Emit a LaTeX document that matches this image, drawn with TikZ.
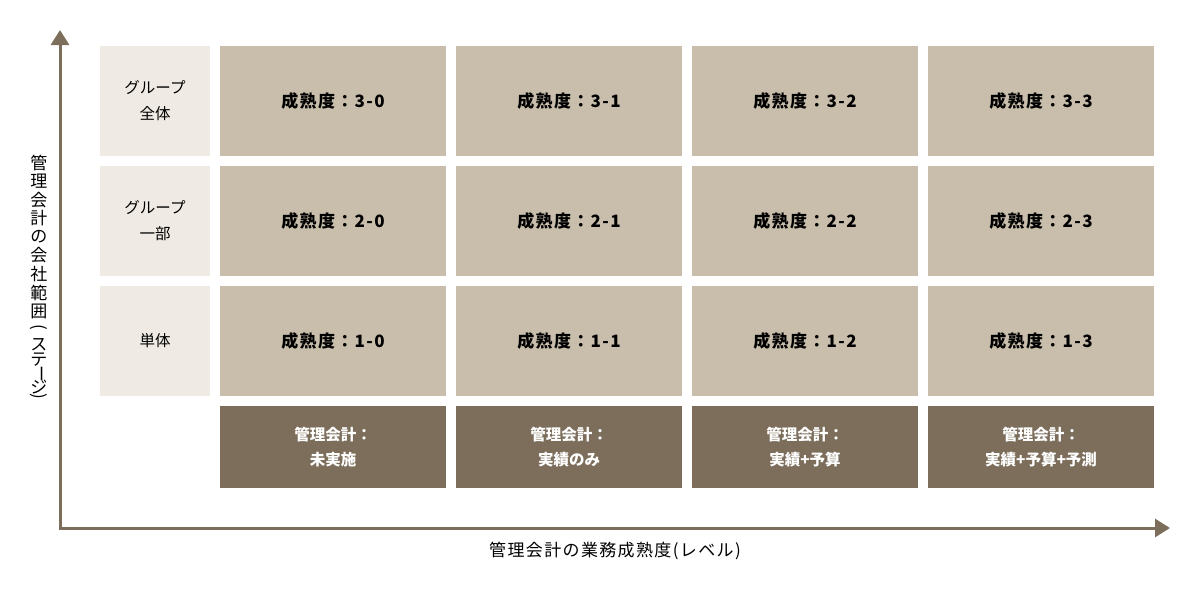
\documentclass[tikz,border=0pt]{standalone}
\usepackage{fontspec}
\setmainfont{Noto Sans CJK JP}
\newfontfamily\trackFont[LetterSpace=8]{Noto Sans CJK JP}
\usetikzlibrary{positioning,arrows.meta}
\tikzstyle{canvas} = [x = 1pt, y = -1pt]
\definecolor{stageColor}{RGB}{239,235,228}
\definecolor{cellColor}{RGB}{200,190,171}
\definecolor{axisColor}{RGB}{125,110,92}
\tikzstyle{stageBox} = [fill=stageColor, minimum width=110pt, minimum height=110pt, inner sep=0pt, align=center, font=\fontsize{15.5}{26}\selectfont]
\tikzstyle{cellBox} = [fill=cellColor, minimum width=226pt, minimum height=110pt, inner sep=0pt, font=\trackFont\fontsize{17}{20}\selectfont\bfseries]
\tikzstyle{levelBox} = [fill=axisColor, text=white, minimum width=226pt, minimum height=82pt, inner sep=0pt, align=center, font=\fontsize{15.5}{25}\selectfont\bfseries]
\tikzstyle{axisLine} = [draw=axisColor, line width=3pt, {Triangle[length=15pt, width=18pt]}-{Triangle[length=15pt, width=18pt]}]
\tikzstyle{axisText} = [font=\trackFont\fontsize{17}{18}\selectfont]
\tikzstyle{stackText} = [font=\fontsize{17}{18}\selectfont, inner sep=0pt]
\newcommand{\stage}[2]{\node [stageBox] (stage-#1) at (155, 461 - 120 * #1) {#2};}
\newcommand{\cell}[2]{\node [cellBox] (cell-#1-#2) at (333 + 236 * #2, 461 - 120 * #1) {成熟度：#1-#2};}
\newcommand{\level}[2]{\node [levelBox] (level-#1) at (333 + 236 * #1, 447) {管理会計：\\#2};}
\newcommand{\upright}[1]{\rotatebox[origin=c]{-90}{#1}}

\begin{document}
\begin{tikzpicture}[canvas]
  \useasboundingbox (0,0) rectangle (1200,590);

  \stage{3}{グループ\\全体}\stage{2}{グループ\\一部}\stage{1}{単体}
  \foreach \row in {1,2,3} {
    \foreach \column in {0,...,3} {
      \cell{\row}{\column}
    }
  }
  \level{0}{未実施}\level{1}{実績のみ}\level{2}{実績+予算}\level{3}{実績+予算+予測}

  \coordinate (origin) at (60, 528);
  \coordinate (yEnd) at (60, 30);
  \coordinate (xEnd) at (1170, 528);
  \draw [axisLine] (yEnd) -- (origin) -- (xEnd);

  \node [axisText] (xLabel) at (615, 551) {管理会計の業務成熟度(レベル)};
  % vertical label, one glyph per node
  \foreach \glyph/\y [count=\i] in {管/163, 理/181.5, 会/200, 計/218.5, の/237, 会/255.5, 社/274, 範/292.5, 囲/311,
      \upright{(}/329, ス/345, テ/360, \upright{ー}/374, ジ/387, \upright{)}/398} {
    \node [stackText] (yLabel-\i) at (39, \y) {\glyph};
  }
\end{tikzpicture}
\end{document}
